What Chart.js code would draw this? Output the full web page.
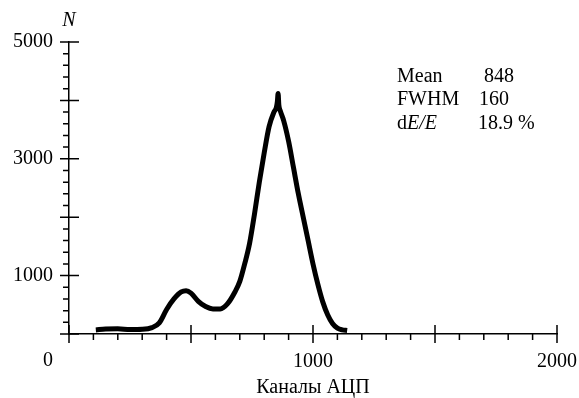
<!DOCTYPE html>
<html>
<head>
<meta charset="utf-8">
<script src="https://cdn.jsdelivr.net/npm/chart.js@4"></script>
<style>
  html, body { margin: 0; padding: 0; background: #fff; }
  #wrap { width: 579px; height: 398px; }
</style>
</head>
<body>
<div id="wrap"><canvas id="specChart"></canvas></div>
<script>
// spectrum: ADC channel -> counts
const channels = [110, 150, 200, 250, 300, 340, 370, 400, 430, 460, 480, 500, 530, 560, 590, 620, 650, 680, 700, 720, 740, 760, 780, 800, 820, 840, 850, 854, 857, 860, 866, 880, 900, 920, 940, 960, 980, 1000, 1020, 1040, 1060, 1080, 1100, 1120, 1140];
const counts   = [70, 85, 90, 75, 80, 110, 190, 420, 600, 720, 740, 700, 560, 470, 430, 430, 520, 720, 900, 1200, 1550, 2050, 2600, 3100, 3550, 3800, 3880, 3980, 4120, 3920, 3820, 3650, 3300, 2850, 2400, 2000, 1600, 1200, 850, 550, 330, 180, 100, 70, 60];

const xLabels = [1000, 2000];
const yLabels = [1000, 3000, 5000];
const statNames = ['Mean', 'FWHM', 'dE/E'];
const statValues = ['848', '160', '18.9 %'];

const serif = "'Liberation Serif', 'Times New Roman', serif";
const crt = document.getElementById('specChart');

const points = channels.map((c, i) => ({ x: c, y: counts[i] }));

const axisDecor = {
	id: 'axisDecor',
	afterDraw(chart) {
		const ctx = chart.ctx;
		const xs = chart.scales.x, ys = chart.scales.y;
		const x0 = xs.getPixelForValue(0), y0 = ys.getPixelForValue(0);
		ctx.save();
		ctx.strokeStyle = '#000';
		ctx.lineWidth = 1.5;
		ctx.beginPath();
		for (let v = 0; v <= 2000; v += 100) {
			const px = xs.getPixelForValue(v);
			if (v % 500 === 0) { ctx.moveTo(px, y0 - 9); ctx.lineTo(px, y0 + 9); }
			else { ctx.moveTo(px, y0); ctx.lineTo(px, y0 + 6); }
		}
		for (let v = 0; v <= 5000; v += 200) {
			const py = ys.getPixelForValue(v);
			if (v % 1000 === 0) { ctx.moveTo(x0 - 9, py); ctx.lineTo(x0 + 10, py); }
			else { ctx.moveTo(x0 - 6, py); ctx.lineTo(x0, py); }
		}
		ctx.stroke();

		ctx.fillStyle = '#000';
		ctx.textBaseline = 'middle';
		ctx.textAlign = 'center';
		ctx.font = '20px ' + serif;
		ctx.fillText('0', x0 - 21, y0 + 27);
		ctx.font = 'italic 20px ' + serif;
		ctx.fillText('N', x0, 21);

		// stats box
		ctx.textBaseline = 'alphabetic';
		ctx.textAlign = 'left';
		const base = [82, 105, 129];
		const valX = [484, 479, 478];
		for (let i = 0; i < statNames.length; i++) {
			ctx.font = '20px ' + serif;
			if (statNames[i] === 'dE/E') {
				ctx.fillText('d', 397, base[i]);
				const w = ctx.measureText('d').width;
				ctx.font = 'italic 20px ' + serif;
				ctx.fillText('E/E', 397 + w, base[i]);
				ctx.font = '20px ' + serif;
			} else {
				ctx.fillText(statNames[i], 397, base[i]);
			}
			ctx.fillText(statValues[i], valX[i], base[i]);
		}
		ctx.restore();
	}
};

new Chart(crt, {
	type: 'line',
	data: {
		datasets: [{
			data: points,
			borderColor: '#000',
			borderWidth: 5,
			pointRadius: 0,
			fill: false,
			tension: 0.4,
			cubicInterpolationMode: 'monotone'
		}]
	},
	options: {
		responsive: true,
		maintainAspectRatio: false,
		animation: false,
		events: [],
		layout: { padding: { left: 0, top: 42, right: 0, bottom: 0 } },
		plugins: { legend: { display: false }, tooltip: { enabled: false } },
		scales: {
			x: {
				type: 'linear',
				min: 0,
				max: 2000,
				grid: { display: false },
				border: { display: true, color: '#000', width: 1.5 },
				ticks: {
					stepSize: 1000,
					maxRotation: 0,
					autoSkip: false,
					padding: 8,
					color: '#000',
					font: { family: serif, size: 20 },
					callback: v => xLabels.includes(v) ? String(v) : ''
				},
				title: {
					display: true,
					text: 'Каналы АЦП',
					color: '#000',
					font: { family: serif, size: 20, lineHeight: 1 },
					padding: 0
				},
				afterFit: s => { s.height = 64; s.paddingLeft = 0; s.paddingRight = 22; }
			},
			y: {
				min: 0,
				max: 5000,
				grid: { display: false },
				border: { display: true, color: '#000', width: 1.5 },
				ticks: {
					stepSize: 1000,
					padding: 8,
					color: '#000',
					font: { family: serif, size: 20 },
					callback: v => yLabels.includes(v) ? String(v) : ''
				},
				afterFit: s => { s.width = 69; }
			}
		}
	},
	plugins: [axisDecor]
});
</script>
</body>
</html>
